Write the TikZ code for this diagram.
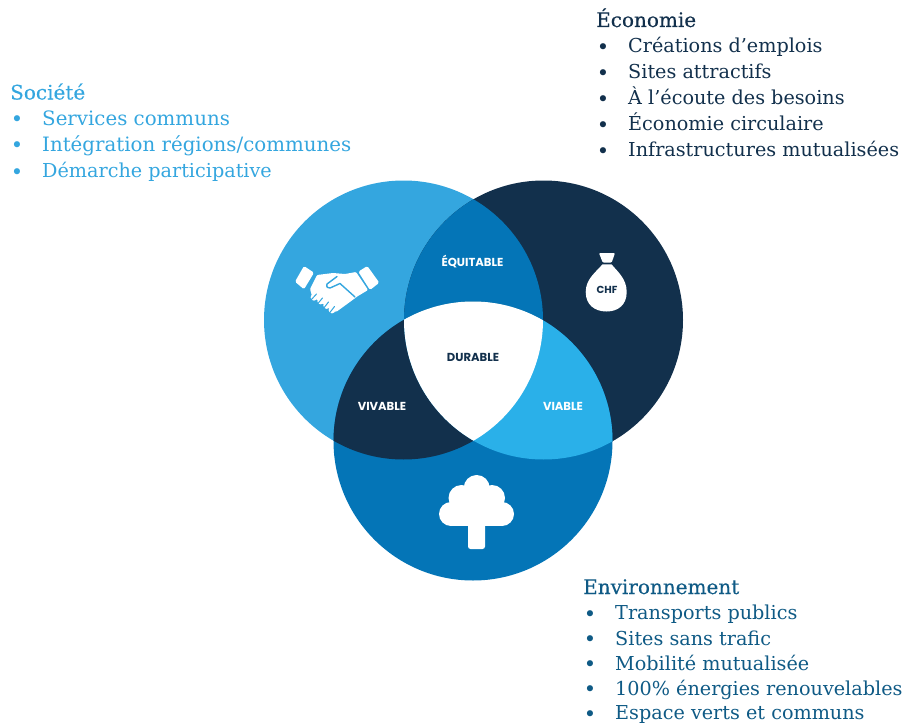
\documentclass[tikz,border=0pt]{standalone}
\usepackage{fontspec}
\setmainfont{DejaVu Serif}
\newfontfamily\headfont{DejaVu Serif}[FakeBold=0.25]
\newfontfamily\labelfont{Poppins}[BoldFont={Poppins Bold}]
\definecolor{socblue}{HTML}{34A6DF}
\definecolor{econavy}{HTML}{12304C}
\definecolor{envblue}{HTML}{0475B7}
\definecolor{viablue}{HTML}{2AB0E9}
\definecolor{envtext}{HTML}{0F5A85}
\tikzset{
  listtext/.style={anchor=base west,inner sep=0pt,font=\fontsize{19.2}{22}\selectfont},
  bulletmark/.style={anchor=base,inner sep=0pt,font=\fontsize{21}{24}\selectfont},
  headtext/.style={anchor=base west,inner sep=0pt,font=\headfont\fontsize{20}{22}\selectfont},
  zonelabel/.style={inner sep=0pt,font=\labelfont\bfseries\fontsize{11.6}{13}\selectfont},
}
\newcommand{\textrow}[7][]{% options, name, colour, bullet x, text x, y, text
  \node[bulletmark,text=#3] (#2b) at (#4,#6+1.5) {•};
  \node[listtext,text=#3,#1] (#2) at (#5,#6) {#7};
}
\begin{document}
\begin{tikzpicture}[x=1pt,y=-1pt]
\useasboundingbox (0,0) rectangle (903,725);
\coordinate (S) at (403.5,320);
\coordinate (E) at (543.5,320);
\coordinate (N) at (473,441);
\def\R{139.5}
% circles
\fill[socblue] (S) circle (\R);
\fill[econavy] (E) circle (\R);
\fill[envblue] (N) circle (\R);
% pairwise overlaps
\begin{scope}\clip (S) circle (\R); \fill[envblue] (E) circle (\R); \end{scope}
\begin{scope}\clip (S) circle (\R); \fill[econavy] (N) circle (\R); \end{scope}
\begin{scope}\clip (E) circle (\R); \fill[viablue] (N) circle (\R); \end{scope}
\begin{scope}\clip (S) circle (\R); \clip (E) circle (\R); \fill[white] (N) circle (\R); \end{scope}
% zone labels
\node[zonelabel,text=white] (equitable) at (472.5,262) {ÉQUITABLE};
\node[zonelabel,text=econavy] (durable) at (473,357.5) {DURABLE};
\node[zonelabel,text=white] (vivable) at (382,406) {VIVABLE};
\node[zonelabel,text=white] (viable) at (563,406) {VIABLE};
% handshake
\fill[white,rounded corners=1.5pt] (304,266) -- (314,272.7) -- (304,289.3) -- (295,281.7) -- cycle;
\fill[white,rounded corners=1.5pt] (367.3,266) -- (379.3,282.7) -- (370,290) -- (358.3,271.7) -- cycle;
\fill[white,rounded corners=1pt] (317,275) -- (333,273) -- (345,274) -- (356,272) -- (368,290) -- (358,296) -- (343,307) -- (336,312) -- (330,309) -- (312,296) -- (310,289) -- cycle;
\draw[socblue,line width=1.4pt,line cap=round,line join=round] (337,276.5) -- (327,284) .. controls (326,287) and (328,288.5) .. (330,288) -- (340,283.5) -- (355,297);
\fill[white] (314,297.3) circle (3.4) (320.7,301) circle (3.4) (326.7,305.5) circle (3.4) (332,310) circle (3.4);
\draw[socblue,line width=1pt,line cap=round] (316.5,294) -- (311,300) (322.5,298) -- (317.5,304) (328.5,302) -- (323.5,308.5) (334.5,306.5) -- (329.5,313);
% money bag
\fill[white,rounded corners=1pt] (599,253) -- (615,253) -- (611.7,262.5) -- (602.7,262.5) -- cycle;
\fill[white] (602.5,264.3) -- (611.5,264.3)
  .. controls (618,272) and (626.7,279) .. (626.7,292)
  .. controls (626.7,305) and (618,311.5) .. (606.5,311.5)
  .. controls (595,311.5) and (585.7,305) .. (585.7,292)
  .. controls (585.7,279) and (596,272) .. (602.5,264.3) -- cycle;
\node[zonelabel,text=econavy,font=\labelfont\bfseries\fontsize{10.2}{12}\selectfont] (chf) at (607,289.5) {CHF};
% tree
\fill[white] (476.7,488) circle (13) (461.5,498) circle (13) (492,498) circle (13) (451,514) circle (12) (502,514) circle (12);
\fill[white] (451,495) rectangle (502,526);
\fill[white,rounded corners=2.5pt] (468,520) rectangle (485,549);
% Société
\node[headtext,text=socblue] (soc) at (10,99.5) {Société};
\textrow[font=\fontsize{19.8}{22}\selectfont]{soca}{socblue}{17}{42}{125.5}{Services communs}
\textrow[font=\fontsize{19.8}{22}\selectfont]{socb}{socblue}{17}{42}{151.5}{Intégration régions/communes}
\textrow[font=\fontsize{19.2}{22}\selectfont]{socc}{socblue}{17}{42}{177.5}{Démarche participative}
% Économie
\node[headtext,text=econavy] (eco) at (596,27) {Économie};
\textrow{ecoa}{econavy}{603}{628}{53}{Créations d'emplois}
\textrow{ecob}{econavy}{603}{628}{79}{Sites attractifs}
\textrow{ecoc}{econavy}{603}{628}{105}{À l'écoute des besoins}
\textrow{ecod}{econavy}{603}{628}{131}{Économie circulaire}
\textrow{ecoe}{econavy}{603}{628}{157}{Infrastructures mutualisées}
% Environnement
\node[headtext,text=envtext] (env) at (583,594) {Environnement};
\textrow{enva}{envtext}{590}{615}{619.5}{Transports publics}
\textrow{envb}{envtext}{590}{615}{645}{Sites sans trafic}
\textrow{envc}{envtext}{590}{615}{670}{Mobilité mutualisée}
\textrow{envd}{envtext}{590}{615}{695}{100\% énergies renouvelables}
\textrow{enve}{envtext}{590}{615}{719.5}{Espace verts et communs}
\end{tikzpicture}
\end{document}
